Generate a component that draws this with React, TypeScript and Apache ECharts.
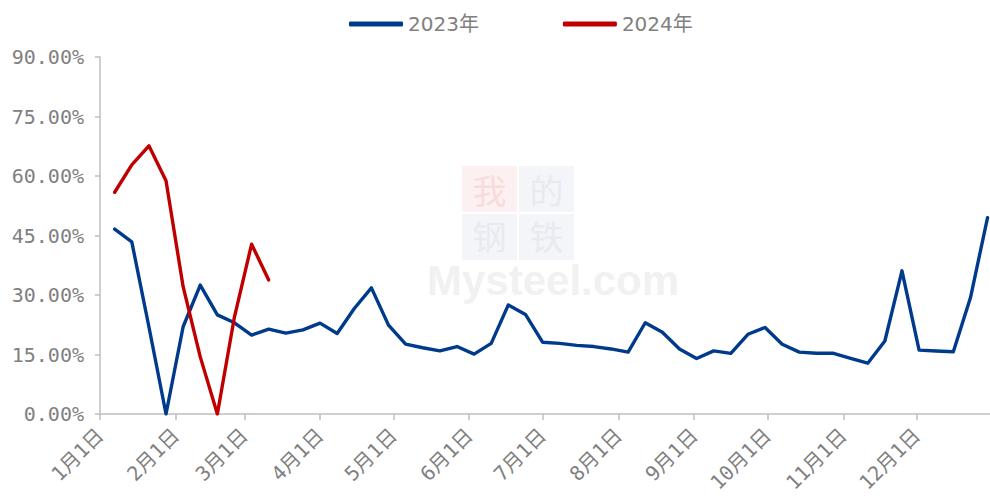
import React, { useEffect, useRef } from 'react';
import * as echarts from 'echarts';

// Weekly observation dates (month-day), plotted on a Jan 1 – Dec 31 day axis
const weekDates = [
  '01-07', '01-14', '01-21', '01-28',
  '02-04', '02-11', '02-18', '02-25',
  '03-04', '03-11', '03-18', '03-25',
  '04-01', '04-08', '04-15', '04-22', '04-29',
  '05-06', '05-13', '05-20', '05-27',
  '06-03', '06-10', '06-17', '06-24',
  '07-01', '07-08', '07-15', '07-22', '07-29',
  '08-05', '08-12', '08-19', '08-26',
  '09-02', '09-09', '09-16', '09-23', '09-30',
  '10-07', '10-14', '10-21', '10-28',
  '11-04', '11-11', '11-18', '11-25',
  '12-02', '12-09', '12-16', '12-23', '12-30',
];

// Values in percent
const values2023 = [
  46.6, 43.4, 22.0, 0.0,
  22.0, 32.5, 25.0, 23.0,
  19.9, 21.4, 20.4, 21.2,
  22.9, 20.3, 26.6, 31.8, 22.4,
  17.6, 16.7, 15.9, 17.0,
  15.1, 17.8, 27.5, 25.1,
  18.1, 17.8, 17.3, 17.0, 16.4,
  15.6, 23.0, 20.6, 16.4,
  14.0, 15.9, 15.3, 20.1, 21.8,
  17.6, 15.6, 15.3, 15.3,
  14.0, 12.8, 18.4, 36.1,
  16.1, 15.9, 15.7, 29.3, 49.5,
];

const values2024 = [55.9, 62.8, 67.6, 58.8, 32.1, 14.4, 0.0, 24.5, 42.8, 33.8];

const seriesNames = ['2023年', '2024年'];
const seriesColors = ['#003A8C', '#C00000'];

const yMin = 0;
const yMax = 90;
const yInterval = 15;

function buildDays(): string[] {
  const out: string[] = [];
  const d = new Date(Date.UTC(2023, 0, 1));
  while (d.getUTCFullYear() === 2023) {
    const m = String(d.getUTCMonth() + 1).padStart(2, '0');
    const day = String(d.getUTCDate()).padStart(2, '0');
    out.push(`${m}-${day}`);
    d.setUTCDate(d.getUTCDate() + 1);
  }
  return out;
}

const dayCategories = buildDays();
const isMonthStart = (_i: number, v: string) => v.endsWith('-01');
const fmtDay = (v: string) => `${parseInt(v.slice(0, 2), 10)}月${parseInt(v.slice(3), 10)}日`;

export default function App() {
  const ref = useRef<HTMLDivElement>(null);

  useEffect(() => {
    if (!ref.current) return;
    const chart = echarts.init(ref.current, undefined, { renderer: 'svg' });
    const gray = '#808080';
    const axisGray = '#BFBFBF';

    chart.setOption({
      animation: false,
      backgroundColor: '#FFFFFF',
      legend: {
        top: 9,
        left: 344,
        itemGap: 84,
        itemWidth: 54,
        itemHeight: 5,
        icon: 'roundRect',
        textStyle: { color: gray, fontSize: 20, fontFamily: '"DejaVu Sans", "Noto Sans CJK SC"' },
        data: seriesNames,
      },
      grid: { left: 100, right: -3, top: 57, bottom: 86, containLabel: false },
      xAxis: {
        type: 'category',
        data: dayCategories,
        boundaryGap: false,
        axisLine: { show: true, lineStyle: { color: axisGray, width: 1.5 } },
        axisTick: { show: true, interval: isMonthStart, length: 6, lineStyle: { color: axisGray, width: 1.5 } },
        axisLabel: {
          interval: isMonthStart,
          rotate: 45,
          margin: 18,
          color: gray,
          fontSize: 20,
          fontFamily: '"DejaVu Sans Mono", "Noto Sans CJK SC"',
          formatter: fmtDay,
        },
        splitLine: { show: false },
      },
      yAxis: {
        type: 'value',
        min: yMin,
        max: yMax,
        interval: yInterval,
        axisLine: { show: true, lineStyle: { color: axisGray, width: 1.5 } },
        axisTick: { show: true, length: 5, lineStyle: { color: axisGray, width: 1.5 } },
        axisLabel: {
          color: gray,
          fontSize: 20,
          margin: 16,
          fontFamily: 'DejaVu Sans Mono',
          formatter: (v: number) => `${v.toFixed(2)}%`,
        },
        splitLine: { show: false },
      },
      graphic: [
        { type: 'rect', z: 0, shape: { x: 462, y: 166, width: 55, height: 46 }, style: { fill: '#FDF0F0' } },
        { type: 'rect', z: 0, shape: { x: 519, y: 166, width: 55, height: 46 }, style: { fill: '#F4F5F9' } },
        { type: 'rect', z: 0, shape: { x: 462, y: 214, width: 55, height: 46 }, style: { fill: '#F4F5F9' } },
        { type: 'rect', z: 0, shape: { x: 519, y: 214, width: 55, height: 46 }, style: { fill: '#F4F5F9' } },
        { type: 'text', z: 1, x: 489.5, y: 189, style: { text: '我', fill: '#F8DCDC', font: '34px "Noto Sans CJK SC"', align: 'center', verticalAlign: 'middle' } },
        { type: 'text', z: 1, x: 546.5, y: 189, style: { text: '的', fill: '#E8EAF1', font: '34px "Noto Sans CJK SC"', align: 'center', verticalAlign: 'middle' } },
        { type: 'text', z: 1, x: 489.5, y: 235, style: { text: '钢', fill: '#E8EAF1', font: '34px "Noto Sans CJK SC"', align: 'center', verticalAlign: 'middle' } },
        { type: 'text', z: 1, x: 546.5, y: 235, style: { text: '铁', fill: '#E8EAF1', font: '34px "Noto Sans CJK SC"', align: 'center', verticalAlign: 'middle' } },
        { type: 'text', z: 1, x: 427, y: 259, style: { text: 'Mysteel.com', fill: '#F1F1F1', font: 'bold 42px "Liberation Sans"', align: 'left', verticalAlign: 'top' } },
      ],
      series: [
        {
          name: seriesNames[0],
          type: 'line',
          data: weekDates.map((d, i) => [d, values2023[i]]),
          showSymbol: false,
          symbol: 'none',
          lineStyle: { color: seriesColors[0], width: 3.4, cap: 'round', join: 'round' },
          itemStyle: { color: seriesColors[0] },
          z: 3,
        },
        {
          name: seriesNames[1],
          type: 'line',
          data: weekDates.slice(0, values2024.length).map((d, i) => [d, values2024[i]]),
          showSymbol: false,
          symbol: 'none',
          lineStyle: { color: seriesColors[1], width: 3.4, cap: 'round', join: 'round' },
          itemStyle: { color: seriesColors[1] },
          z: 4,
        },
      ],
    });

    return () => chart.dispose();
  }, []);

  return (
    <div
      ref={ref}
      style={{ position: 'fixed', left: 0, top: 0, width: 990, height: 500, background: '#fff' }}
    />
  );
}
